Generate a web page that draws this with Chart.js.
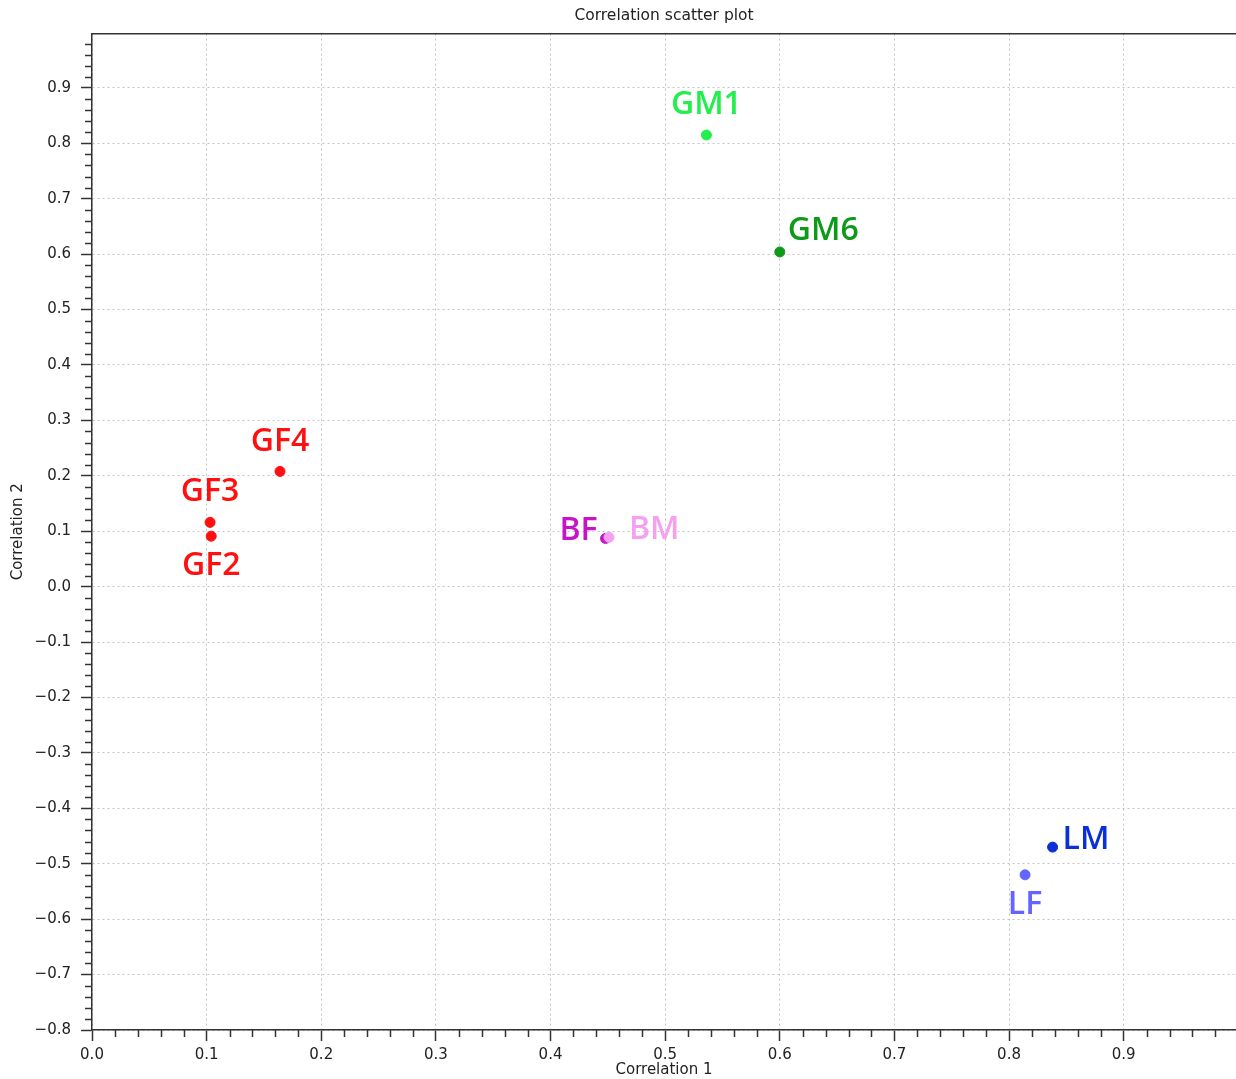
<!DOCTYPE html>
<html lang="en">
<head>
  <meta charset="UTF-8">
  <title>Correlation scatter plot</title>
  <script src="https://cdn.jsdelivr.net/npm/chart.js"></script>
  <style>
    html, body {
      margin: 0;
      padding: 0;
      background: #ffffff;
    }
    .wrap {
      width: 1236px;
      height: 1079px;
      position: relative;
    }
  </style>
</head>
<body>
  <div class="wrap">
    <canvas id="scatter"></canvas>
  </div>

  <script>
    // sample names and their correlations
    const names = ['GM1', 'GM6', 'GF4', 'GF3', 'GF2', 'BF', 'BM', 'LM', 'LF'];
    const corr1 = [0.536, 0.600, 0.164, 0.103, 0.104, 0.448, 0.451, 0.838, 0.814];
    const corr2 = [0.815, 0.604, 0.208, 0.116, 0.091, 0.087, 0.089, -0.470, -0.520];
    const pointColors = ['#22ee4c', '#0c9a18', '#ff1010', '#ff1010', '#ff1010', '#c814c8', '#f5a0f0', '#0c30d8', '#6464ff'];
    // where each name sits relative to its point
    const labelSide = ['top', 'topright', 'top', 'top', 'bottom', 'left', 'farright', 'right', 'bottom'];

    const xTickValues = [0.0, 0.1, 0.2, 0.3, 0.4, 0.5, 0.6, 0.7, 0.8, 0.9];
    const yTickValues = [-0.8, -0.7, -0.6, -0.5, -0.4, -0.3, -0.2, -0.1, 0.0, 0.1, 0.2, 0.3, 0.4, 0.5, 0.6, 0.7, 0.8, 0.9];

    const axisFont = { family: 'DejaVu Sans', size: 15 };
    const axisColor = '#333333';

    function fmt(v) {
      const s = (Math.abs(v) < 1e-9 ? 0 : v).toFixed(1);
      return s.replace('-', '\u2212');
    }

    // small outward minor ticks every 0.02
    const minorTicks = {
      id: 'minorTicks',
      afterDraw(chart) {
        const ctx = chart.ctx;
        const xs = chart.scales.x, ys = chart.scales.y;
        ctx.save();
        ctx.strokeStyle = axisColor;
        ctx.lineWidth = 1.5;
        ctx.beginPath();
        for (let i = 0; i * 0.02 <= xs.max + 1e-9; i++) {
          if (i % 5 === 0) continue;
          const px = Math.round(xs.getPixelForValue(i * 0.02)) + 0.5;
          ctx.moveTo(px, xs.top);
          ctx.lineTo(px, xs.top + 7);
        }
        for (let i = Math.round(ys.min / 0.02); i * 0.02 <= ys.max + 1e-9; i++) {
          if (i % 5 === 0) continue;
          const py = Math.round(ys.getPixelForValue(i * 0.02)) + 0.5;
          ctx.moveTo(ys.right, py);
          ctx.lineTo(ys.right - 7, py);
        }
        ctx.stroke();
        ctx.restore();
      }
    };

    // sample name next to each point
    const pointNames = {
      id: 'pointNames',
      afterDatasetsDraw(chart) {
        const ctx = chart.ctx;
        const meta = chart.getDatasetMeta(0);
        ctx.save();
        ctx.font = '600 32px "Open Sans", sans-serif';
        meta.data.forEach((pt, i) => {
          const { x, y } = pt.getProps(['x', 'y'], true);
          ctx.fillStyle = pointColors[i];
          const side = labelSide[i];
          let tx = x, ty = y;
          if (side === 'top') { ctx.textAlign = 'center'; ctx.textBaseline = 'middle'; ty = y - 30; }
          else if (side === 'bottom') { ctx.textAlign = 'center'; ctx.textBaseline = 'middle'; ty = y + 30; }
          else if (side === 'left') { ctx.textAlign = 'right'; ctx.textBaseline = 'middle'; tx = x - 8; ty = y - 8; }
          else if (side === 'right') { ctx.textAlign = 'left'; ctx.textBaseline = 'middle'; tx = x + 10; ty = y - 7; }
          else if (side === 'farright') { ctx.textAlign = 'left'; ctx.textBaseline = 'middle'; tx = x + 20; ty = y - 7; }
          else { ctx.textAlign = 'left'; ctx.textBaseline = 'middle'; tx = x + 8; ty = y - 21; }
          ctx.fillText(names[i], tx, ty);
        });
        ctx.restore();
      }
    };

    const points = corr1.map((v, i) => ({ x: v, y: corr2[i] }));

    new Chart(document.getElementById('scatter'), {
      type: 'scatter',
      data: {
        datasets: [{
          data: points,
          backgroundColor: pointColors,
          borderColor: pointColors,
          pointRadius: 5,
          pointHoverRadius: 5
        }]
      },
      plugins: [minorTicks, pointNames],
      options: {
        responsive: true,
        maintainAspectRatio: false,
        animation: false,
        layout: { autoPadding: false, padding: 0 },
        plugins: {
          legend: { display: false },
          tooltip: { enabled: false },
          title: {
            display: true,
            text: 'Correlation scatter plot',
            fullSize: false,
            color: '#222222',
            font: { family: 'DejaVu Sans', size: 15.5, weight: 'normal' },
            padding: { top: 7, bottom: 8 }
          }
        },
        scales: {
          x: {
            type: 'linear',
            min: 0,
            max: 0.998,
            afterBuildTicks: (s) => { s.ticks = xTickValues.map(v => ({ value: v })); },
            afterFit: (s) => { s.height = 49; },
            ticks: {
              color: '#222222',
              font: axisFont,
              padding: 5,
              maxRotation: 0,
              callback: (v) => fmt(v)
            },
            grid: {
              color: '#c4c4c4',
              lineWidth: 1,
              tickLength: 11,
              tickColor: axisColor,
              tickWidth: 1.5,
              tickBorderDash: []
            },
            border: { display: true, color: axisColor, width: 1.5, dash: [2, 3] },
            title: {
              display: true,
              text: 'Correlation 1',
              color: '#222222',
              font: axisFont,
              padding: { top: 0, bottom: 0 }
            }
          },
          xTop: {
            type: 'linear',
            position: 'top',
            min: 0,
            max: 0.998,
            afterFit: (s) => { s.height = 0; },
            ticks: { display: false },
            grid: { display: false, drawTicks: false },
            border: { display: true, color: axisColor, width: 1.5 }
          },
          y: {
            type: 'linear',
            min: -0.8,
            max: 0.998,
            afterBuildTicks: (s) => { s.ticks = yTickValues.map(v => ({ value: v })); },
            afterFit: (s) => { s.width = 92; },
            ticks: {
              color: '#222222',
              font: axisFont,
              padding: 10,
              callback: (v) => fmt(v)
            },
            grid: {
              color: '#c4c4c4',
              lineWidth: 1,
              tickLength: 11,
              tickColor: axisColor,
              tickWidth: 1.5,
              tickBorderDash: []
            },
            border: { display: true, color: axisColor, width: 1.5, dash: [2, 3] },
            title: {
              display: true,
              text: 'Correlation 2',
              color: '#222222',
              font: axisFont,
              padding: { top: 9, bottom: 0 }
            }
          }
        }
      }
    });
  </script>
</body>
</html>
